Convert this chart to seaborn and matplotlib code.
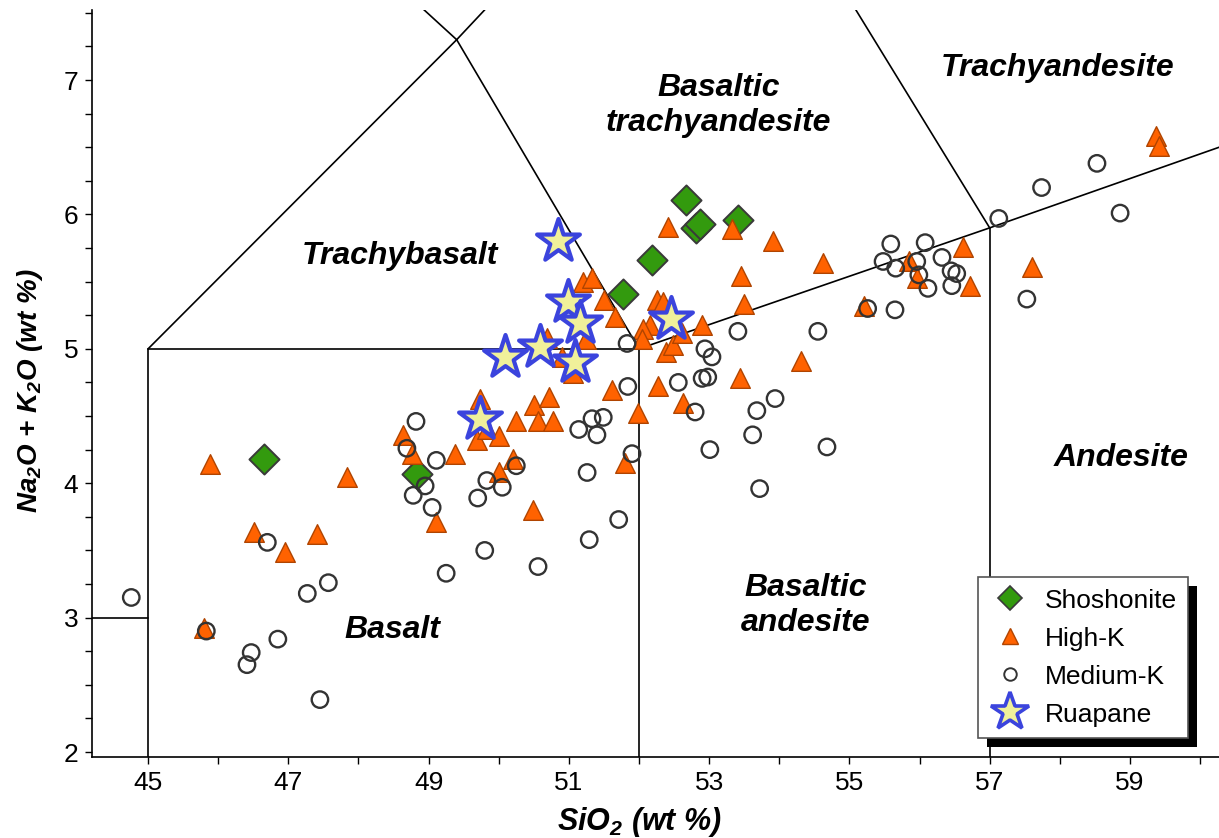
import matplotlib
matplotlib.use("Agg")
import matplotlib.pyplot as plt
from matplotlib.lines import Line2D
from matplotlib.patches import Rectangle
from matplotlib.ticker import MultipleLocator
import pandas as pd
import seaborn as sns

# --- sample compositions (SiO2, Na2O+K2O in wt %) ---
shosh_sio2 = [46.65, 48.83, 51.77, 52.19, 52.67, 52.81, 52.87, 53.41]
shosh_alk = [4.18, 4.07, 5.41, 5.66, 6.11, 5.90, 5.93, 5.96]

highk_sio2 = [45.88, 47.84, 46.51, 47.41, 46.95, 45.80, 48.64, 48.76, 49.38, 49.11,
              49.73, 49.69, 49.83, 50.00, 50.20, 50.00, 50.25, 50.50, 50.72, 50.56,
              50.77, 50.49, 51.61, 51.80, 51.98, 52.27, 52.63, 52.38, 52.48, 53.44,
              54.31, 52.41, 53.33, 53.91, 54.62, 53.45, 53.50, 52.26, 52.34, 52.16,
              52.06, 52.04, 52.90, 52.61, 51.20, 51.33, 51.50, 51.66, 51.24, 50.69,
              50.90, 51.06, 59.37, 59.41, 56.62, 55.85, 55.96, 56.72, 57.60, 55.21]
highk_alk = [4.14, 4.05, 3.64, 3.62, 3.49, 2.92, 4.36, 4.22, 4.22, 3.71,
             4.63, 4.32, 4.40, 4.35, 4.18, 4.08, 4.46, 4.58, 4.64, 4.46,
             4.46, 3.80, 4.69, 4.15, 4.52, 4.72, 4.60, 4.98, 5.03, 4.78,
             4.91, 5.91, 5.89, 5.80, 5.64, 5.54, 5.33, 5.36, 5.35, 5.18,
             5.15, 5.07, 5.18, 5.12, 5.50, 5.53, 5.36, 5.24, 5.07, 5.08,
             4.94, 4.82, 6.58, 6.51, 5.76, 5.65, 5.53, 5.47, 5.61, 5.32]

medk_sio2 = [44.76, 46.70, 47.27, 47.57, 45.83, 46.85, 46.47, 46.41, 47.45, 48.82,
             48.69, 49.11, 48.95, 48.78, 49.05, 49.83, 49.70, 49.80, 49.25, 50.05,
             50.25, 50.56, 51.14, 51.33, 51.49, 51.40, 51.84, 51.26, 51.71, 51.29,
             51.90, 51.83, 52.94, 53.04, 52.56, 52.90, 52.98, 52.80, 53.68, 53.94,
             53.62, 53.01, 53.72, 54.68, 53.41, 54.55, 58.53, 57.74, 57.13, 58.86,
             55.59, 56.08, 55.48, 55.66, 55.96, 55.99, 56.32, 56.45, 56.53, 56.12,
             56.46, 57.53, 55.26, 55.65]
medk_alk = [3.15, 3.56, 3.18, 3.26, 2.90, 2.84, 2.74, 2.65, 2.39, 4.46,
            4.26, 4.17, 3.98, 3.91, 3.82, 4.02, 3.89, 3.50, 3.33, 3.97,
            4.13, 3.38, 4.40, 4.48, 4.49, 4.36, 4.72, 4.08, 3.73, 3.58,
            4.22, 5.04, 5.00, 4.94, 4.75, 4.78, 4.79, 4.53, 4.54, 4.63,
            4.36, 4.25, 3.96, 4.27, 5.13, 5.13, 6.38, 6.20, 5.97, 6.01,
            5.78, 5.79, 5.65, 5.60, 5.65, 5.55, 5.68, 5.58, 5.56, 5.45,
            5.47, 5.37, 5.30, 5.29]

ruap_sio2 = [50.85, 50.99, 51.16, 50.09, 50.59, 51.09, 49.73, 52.46]
ruap_alk = [5.80, 5.35, 5.19, 4.94, 5.01, 4.90, 4.48, 5.22]

# TAS field boundaries (Le Bas et al.)
tas_lines = [
    [(41, 3), (45, 3)],
    [(45, 0), (45, 5)],
    [(45, 5), (52, 5)],
    [(52, 0), (52, 5)],
    [(57, 0), (57, 5.9)],
    [(45, 5), (49.4, 7.3)],
    [(49.4, 7.3), (52, 5)],
    [(52, 5), (57, 5.9)],
    [(57, 5.9), (63, 7)],
    [(49.4, 7.3), (45, 9.4)],
    [(49.4, 7.3), (53, 9.3)],
    [(53, 9.3), (57, 5.9)],
]

field_names = ["Trachyandesite", "Basaltic\ntrachyandesite", "Trachybasalt",
               "Basalt", "Basaltic\nandesite", "Andesite"]
field_pos = [(57.97, 7.09), (53.13, 6.81), (48.59, 5.69),
             (48.49, 2.91), (54.38, 3.09), (58.87, 4.19)]


def main():
    sns.set_style("ticks")
    plt.rcParams["font.family"] = ["Liberation Sans", "DejaVu Sans"]
    plt.rcParams["mathtext.default"] = "regular"
    for key in ("text.color", "axes.labelcolor", "xtick.color", "ytick.color"):
        plt.rcParams[key] = "black"

    fig = plt.figure(figsize=(12.19, 8.38), dpi=100)
    ax = fig.add_axes([92 / 1219, 81 / 838, 1127 / 1219, 747 / 838])

    for seg in tas_lines:
        (x0, y0), (x1, y1) = seg
        ax.plot([x0, x1], [y0, y1], color="black", lw=1.2, zorder=1)

    shosh = pd.DataFrame({"sio2": shosh_sio2, "alk": shosh_alk})
    highk = pd.DataFrame({"sio2": highk_sio2, "alk": highk_alk})
    medk = pd.DataFrame({"sio2": medk_sio2, "alk": medk_alk})
    ruap = pd.DataFrame({"sio2": ruap_sio2, "alk": ruap_alk})

    sns.scatterplot(data=shosh, x="sio2", y="alk", ax=ax, marker="D", s=235,
                    color="#339a0e", edgecolor="#3a3a3a", linewidth=1.4, zorder=3)
    sns.scatterplot(data=highk, x="sio2", y="alk", ax=ax, marker="^", s=200,
                    color="#ff6200", edgecolor="#b04400", linewidth=1.0, zorder=4)
    sns.scatterplot(data=medk, x="sio2", y="alk", ax=ax, marker="o", s=140,
                    facecolor="none", edgecolor="#333333", linewidth=1.7, zorder=5)
    sns.scatterplot(data=ruap, x="sio2", y="alk", ax=ax, marker="*", s=1050,
                    color="#f0f09a", edgecolor="#3b44dd", linewidth=3.0, zorder=6)

    for name, (fx, fy) in zip(field_names, field_pos):
        ax.text(fx, fy, name, ha="center", va="center", fontsize=23,
                fontweight="bold", fontstyle="italic", linespacing=1.2, zorder=2)

    ax.set_xlim(44.2, 60.27)
    ax.set_ylim(1.963, 7.521)
    ax.set_xticks(range(45, 60, 2))
    ax.xaxis.set_minor_locator(MultipleLocator(1))
    ax.set_yticks(range(2, 8))
    ax.yaxis.set_minor_locator(MultipleLocator(0.25))
    ax.tick_params(which="both", direction="out", length=5, width=1, color="black")
    ax.tick_params(which="major", labelsize=19, pad=5)

    sns.despine(ax=ax)
    for side in ("left", "bottom"):
        ax.spines[side].set_linewidth(1.2)
        ax.spines[side].set_color("black")

    ax.set_xlabel("SiO$_2$ (wt %)", fontsize=22, fontweight="bold", fontstyle="italic")
    ax.set_ylabel("Na$_2$O + K$_2$O (wt %)", fontsize=20, fontweight="bold",
                  fontstyle="italic")
    ax.xaxis.set_label_coords(0.486, -0.064)
    ax.yaxis.set_label_coords(-0.042, 0.49)

    handles = [
        Line2D([], [], ls="none", marker="D", ms=12, mfc="#339a0e", mec="#3a3a3a", mew=1.2),
        Line2D([], [], ls="none", marker="^", ms=11, mfc="#ff6200", mec="#b04400", mew=1.0),
        Line2D([], [], ls="none", marker="o", ms=9, mfc="white", mec="#333333", mew=1.4),
        Line2D([], [], ls="none", marker="*", ms=29, mfc="#f0f09a", mec="#3b44dd", mew=2.6),
    ]
    leg = ax.legend(handles, ["Shoshonite", "High-K", "Medium-K", "Ruapane"],
                    loc="lower right", bbox_to_anchor=(0.9725, 0.0254),
                    borderaxespad=0, fontsize=19, frameon=True, fancybox=False,
                    edgecolor="#555555", framealpha=1, handletextpad=0.55,
                    labelspacing=0.53, borderpad=0.43, handlelength=1.55)
    leg.get_frame().set_linewidth(1.2)
    leg.set_zorder(10)

    # solid black drop shadow behind the legend box
    fig.canvas.draw()
    bb = leg.get_frame().get_window_extent()
    shadow = Rectangle((bb.x0 + 9, bb.y0 - 9), bb.width, bb.height,
                       transform=None, facecolor="black", edgecolor="none",
                       zorder=9, clip_on=False)
    ax.add_artist(shadow)

    fig.savefig("out.png", dpi=100)


if __name__ == "__main__":
    main()
